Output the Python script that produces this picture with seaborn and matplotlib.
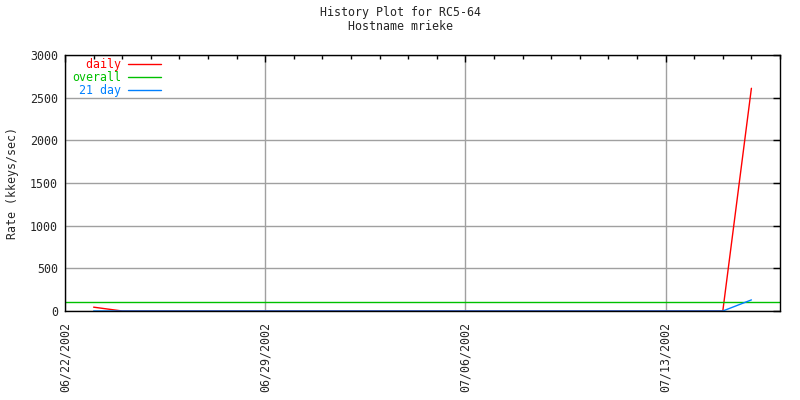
import matplotlib
matplotlib.use("Agg")
import matplotlib.pyplot as plt
import matplotlib.dates as mdates
import seaborn as sns
import pandas as pd
import numpy as np

# Data
dates = pd.date_range("2002-06-23", "2002-07-16", freq="D")
daily = [45, 0] + [0] * 20 + [0, 2610]
day21 = [0, 0] + [0] * 20 + [0, 130]
overall_value = 100
x_start = pd.Timestamp("2002-06-22")
x_end = pd.Timestamp("2002-07-17")
tick_dates = pd.to_datetime(["2002-06-22", "2002-06-29", "2002-07-06", "2002-07-13"])
tick_labels = ["06/22/2002", "06/29/2002", "07/06/2002", "07/13/2002"]
y_ticks = [0, 500, 1000, 1500, 2000, 2500, 3000]

sns.set_style("white")
plt.rcParams["font.family"] = ["DejaVu Sans Mono"]
fs = 8.4

df = pd.DataFrame({"date": dates, "daily": daily, "day21": day21})

fig = plt.figure(figsize=(8, 4), dpi=100)
ax = fig.add_axes([65/800, 1 - 311/400, (780-65)/800, (311-55)/400])

red = "#ff0000"
green = "#00c000"
blue = "#0080ff"

sns.lineplot(data=df, x="date", y="daily", ax=ax, color=red, lw=1, label="  daily")
ax.axhline(overall_value, color=green, lw=1, label="overall")
sns.lineplot(data=df, x="date", y="day21", ax=ax, color=blue, lw=1, label=" 21 day")

ax.set_xlim(x_start, x_end)
ax.set_ylim(0, 3000)
ax.set_yticks(y_ticks)
ax.set_yticklabels([str(v) for v in y_ticks], fontsize=fs)
ax.set_xticks(tick_dates)
ax.set_xticklabels(tick_labels, rotation=90, fontsize=fs)
ax.xaxis.set_minor_locator(mdates.DayLocator())
ax.tick_params(axis="both", which="major", direction="in", top=True, right=True,
               length=5, width=1, color="black")
ax.tick_params(axis="both", which="minor", direction="in", top=True, right=True,
               length=3, width=1, color="black")
ax.tick_params(axis="x", which="major", pad=8)
ax.tick_params(axis="y", which="major", pad=5)
ax.grid(True, which="major", color="#a0a0a0", lw=1)
ax.set_axisbelow(True)
for s in ax.spines.values():
    s.set_color("black")
    s.set_linewidth(1)

ax.set_xlabel("")
ax.set_ylabel("Rate (kkeys/sec)", fontsize=fs, labelpad=8)
fig.suptitle("History Plot for RC5-64\nHostname mrieke", fontsize=fs, y=0.985,
             linespacing=1.1)

leg = ax.legend(loc="upper left", frameon=False, markerfirst=False, fontsize=fs,
                handlelength=2.8, handletextpad=0.6, borderaxespad=0.2,
                labelspacing=0.0, bbox_to_anchor=(0.0, 1.017))
for text, c in zip(leg.get_texts(), [red, green, blue]):
    text.set_color(c)

fig.savefig("out.png", dpi=100, facecolor="white")
